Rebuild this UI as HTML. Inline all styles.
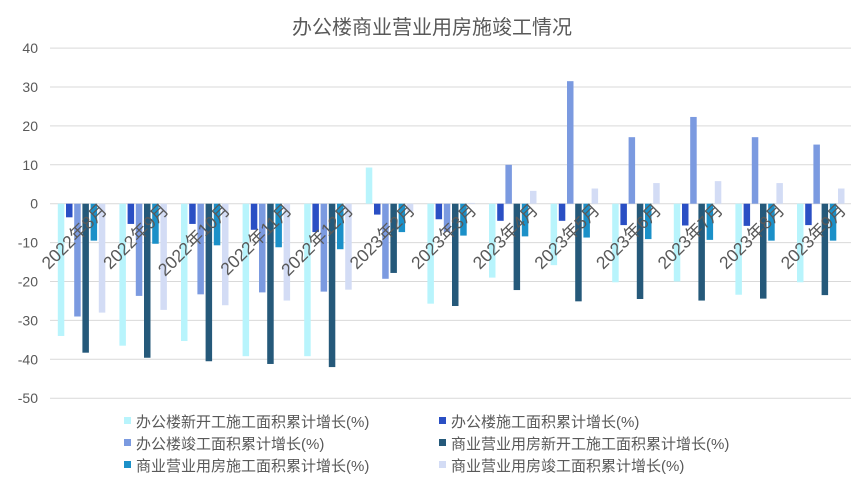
<!DOCTYPE html>
<html><head><meta charset="utf-8"><style>
html,body{margin:0;padding:0;background:#fff;}
svg text{font-family:"Liberation Sans","Noto Sans CJK SC",sans-serif;fill:#595959;}
</style></head><body>
<svg width="865" height="487" viewBox="0 0 865 487" xmlns="http://www.w3.org/2000/svg" id="s">
<text x="432" y="34" font-size="20" text-anchor="middle">办公楼商业营业用房施竣工情况</text>
<g id="grid" stroke="#d9d9d9" stroke-width="1"></g>
<g id="bars"></g>
<g id="lbl" font-size="14"></g>
<g id="cl" font-size="17.5"></g>
<g font-size="15">
<rect x="124" y="417" width="7" height="7" fill="#b8f4fc"/><text x="136" y="427">办公楼新开工施工面积累计增长(%)</text>
<rect x="439" y="417" width="7" height="7" fill="#2a4fc4"/><text x="451" y="427">办公楼施工面积累计增长(%)</text>
<rect x="124" y="439" width="7" height="7" fill="#7b9ae0"/><text x="136" y="449">办公楼竣工面积累计增长(%)</text>
<rect x="439" y="439" width="7" height="7" fill="#25597a"/><text x="451" y="449">商业营业用房新开工施工面积累计增长(%)</text>
<rect x="124" y="461" width="7" height="7" fill="#1b90c8"/><text x="136" y="471">商业营业用房施工面积累计增长(%)</text>
<rect x="439" y="461" width="7" height="7" fill="#d3dcf5"/><text x="451" y="471">商业营业用房竣工面积累计增长(%)</text>
</g>
</svg>
<script>
var ns="http://www.w3.org/2000/svg";
function el(p,t,a,txt){var e=document.createElementNS(ns,t);for(var k in a)e.setAttribute(k,a[k]);if(txt)e.textContent=txt;document.getElementById(p).appendChild(e);return e;}
var y0=203.7,k=3.89;
for(var v=40;v>=-50;v-=10){var y=y0-v*k;el('grid','line',{x1:50,x2:851,y1:y,y2:y});el('lbl','text',{x:38,y:y+5,'text-anchor':'end'},String(v));}
var cats=["2022年8月","2022年9月","2022年10月","2022年11月","2022年12月","2023年2月","2023年3月","2023年4月","2023年5月","2023年6月","2023年7月","2023年8月","2023年9月"];
var d=[[-34,-3.5,-29,-38.3,-9.5,-28],[-36.5,-5.2,-23.7,-39.6,-10.3,-27.3],[-35.3,-5.2,-23.3,-40.5,-10.7,-26.1],[-39.2,-6.7,-22.8,-41.2,-11.2,-24.9],[-39.2,-7.3,-22.6,-42,-11.7,-22.1],[9.3,-2.8,-19.3,-17.8,-7.3,-2],[-25.7,-4,-7.3,-26.3,-8.2,0.2],[-19,-4.4,10,-22.2,-8.4,3.3],[-15.8,-4.4,31.5,-25.1,-8.7,3.9],[-20.2,-5.5,17.1,-24.5,-9.1,5.3],[-20,-5.6,22.3,-24.9,-9.3,5.8],[-23.4,-5.7,17.1,-24.4,-9.5,5.3],[-20.2,-5.5,15.2,-23.5,-9.5,3.9]];
var col=["#b8f4fc","#2a4fc4","#7b9ae0","#25597a","#1b90c8","#d3dcf5"];
for(var i=0;i<13;i++){var cx=50+i*61.6;
for(var j=0;j<6;j++){var v=d[i][j],x=cx+7.8+j*8.2,h=Math.abs(v)*k;el('bars','rect',{x:x,y:v>0?y0-h:y0,width:6.5,height:h,fill:col[j]});}
var tx=cx+58,ty=211;el('cl','text',{x:tx,y:ty,'text-anchor':'end',transform:'rotate(-45 '+tx+' '+ty+')'},cats[i]);}
</script>
</body></html>
